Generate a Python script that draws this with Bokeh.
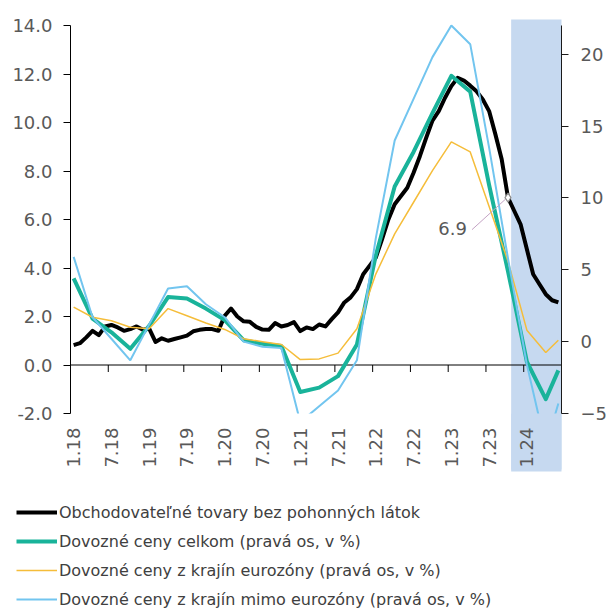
from math import pi
from bokeh.plotting import figure
from bokeh.models import (Range1d, LinearAxis, FixedTicker, PrintfTickFormatter,
                          BoxAnnotation, Legend, LegendItem, Label)
from bokeh.core.properties import value
from bokeh.embed import file_html
from bokeh.resources import INLINE

# ---------------- data ----------------
months = [f"{m}.{y}" for y in range(18, 25) for m in range(1, 13)][:78]   # 1.18 ... 6.24
tick_months = months[::6]                                                 # 1.18, 7.18, ... 1.24
left_ticks = [-2, 0, 2, 4, 6, 8, 10, 12, 14]
right_ticks = [-5, 0, 5, 10, 15, 20]

# Obchodovateľné tovary bez pohonných látok (left axis, monthly)
black = [0.82, 0.90, 1.14, 1.41, 1.23, 1.59, 1.65, 1.55, 1.41, 1.48, 1.59, 1.45,
         1.50, 0.95, 1.10, 1.00, 1.07, 1.14, 1.21, 1.39, 1.45, 1.48, 1.48, 1.41,
         2.03, 2.33, 2.00, 1.80, 1.78, 1.57, 1.46, 1.45, 1.73, 1.59, 1.65, 1.77,
         1.40, 1.55, 1.48, 1.67, 1.59, 1.89, 2.17, 2.58, 2.79, 3.13, 3.74, 4.09,
         4.43, 5.19, 6.00, 6.63, 6.97, 7.31, 7.93, 8.61, 9.37, 10.08, 10.47, 11.02,
         11.50, 11.84, 11.73, 11.52, 11.29, 10.95, 10.47, 9.51, 8.48, 6.90, 6.35, 5.80,
         4.77, 3.74, 3.33, 2.92, 2.67, 2.58]

# import-price series (right axis), observed at these months
q_months = months[::3] + [months[-1]]
teal = [4.4, 1.6, 0.65, -0.5, 1.1, 3.1, 3.0, 2.3, 1.5, 0.1, -0.15, -0.3, -3.5,
        -3.2, -2.4, -0.2, 6.0, 10.8, 13.2, 15.9, 18.5, 17.4, 10.9, 4.9, -1.4, -4.0, -2.0]
yellow = [2.4, 1.7, 1.45, 1.0, 0.9, 2.3, 1.8, 1.3, 0.85, 0.2, 0.0, -0.2, -1.25,
          -1.2, -0.8, 0.9, 4.7, 7.5, 9.7, 11.9, 13.9, 13.2, 9.4, 5.6, 0.8, -0.75, 0.1]
blue = [5.9, 1.7, 0.2, -1.3, 1.2, 3.7, 3.85, 2.6, 1.7, 0.0, -0.35, -0.45, -5.6,
        -4.5, -3.4, -1.3, 7.2, 14.0, 16.9, 19.8, 22.0, 20.7, 13.5, 5.8, -1.6, -7.3, -4.3]

names = ["Obchodovateľné tovary bez pohonných látok",
         "Dovozné ceny celkom (pravá os, v %)",
         "Dovozné ceny z krajín eurozóny (pravá os, v %)",
         "Dovozné ceny z krajín mimo eurozóny (pravá os, v %)"]
colors = ["#000000", "#19B39A", "#F5BD3A", "#72C5EF"]

forecast_from = "11.23"
label_month = "10.23"

# ---------------- geometry / styles ----------------
FONT = "DejaVu Sans"
AX_COL = "#595959"
SHADE = "#C6D9F0"
W, H = 608, 616               # whole drawing (the frame covers it all)
PLOT_L, PLOT_W = 70, 491      # plot-area left edge and width (px)
AX_TOP, AX_BOT = 25, 413      # value-axis top / bottom (px from top)
SH_TOP, SH_BOT = 19, 469      # shaded band top / bottom (px from top)
LEFT_LO, LEFT_HI = left_ticks[0], left_ticks[-1]
RIGHT_LO, RIGHT_HI = -5, 22
NX = len(months)
px_x = PLOT_W / NX
px_l = (AX_BOT - AX_TOP) / (LEFT_HI - LEFT_LO)
px_r = (AX_BOT - AX_TOP) / (RIGHT_HI - RIGHT_LO)

xm = [i + 0.5 for i in range(NX)]
xq = [months.index(m) + 0.5 for m in q_months]

p = figure(frame_width=W, frame_height=H,
           x_range=Range1d(-PLOT_L / px_x, (W - PLOT_L) / px_x),
           y_range=Range1d(LEFT_LO - (H - AX_BOT) / px_l, LEFT_HI + AX_TOP / px_l),
           output_backend="svg", toolbar_location=None, min_border=0,
           outline_line_color=None,
           background_fill_color="white", border_fill_color="white")
p.extra_y_ranges = {"right": Range1d(RIGHT_LO - (H - AX_BOT) / px_r,
                                     RIGHT_HI + AX_TOP / px_r)}
p.xgrid.visible = False
p.ygrid.visible = False
p.xaxis.visible = False

# shaded forecast area (reaches slightly above the plot area and over the labels)
fc = months.index(forecast_from)
p.add_layout(BoxAnnotation(left=fc, right=NX,
                           top=LEFT_HI + (AX_TOP - SH_TOP) / px_l,
                           bottom=LEFT_LO - (SH_BOT - AX_BOT) / px_l,
                           fill_color=SHADE, fill_alpha=1.0,
                           line_color=None, level="underlay"))

# left axis
ya = p.yaxis[0]
ya.fixed_location = 0
ya.bounds = (LEFT_LO, LEFT_HI)
ya.ticker = FixedTicker(ticks=left_ticks)
ya.formatter = PrintfTickFormatter(format="%.1f")
ya.major_tick_in = 0
ya.major_tick_out = 7
ya.minor_tick_line_color = None
ya.major_label_standoff = 11
ya.axis_line_color = "#000000"
ya.major_tick_line_color = "#000000"
ya.major_label_text_font = FONT
ya.major_label_text_font_size = "18px"
ya.major_label_text_color = AX_COL

# right axis
ra = LinearAxis(y_range_name="right", fixed_location=NX, bounds=(RIGHT_LO, RIGHT_HI),
                ticker=FixedTicker(ticks=right_ticks),
                major_tick_in=0, major_tick_out=7, minor_tick_line_color=None,
                major_label_standoff=12, axis_line_color="#1a1a1a",
                major_tick_line_color="#1a1a1a", major_label_text_font=FONT,
                major_label_text_font_size="18px", major_label_text_color=AX_COL)
p.add_layout(ra, "right")

# zero line with category tick marks
tb = [months.index(m) for m in tick_months[1:]]
p.segment(x0=[0] + tb, x1=[NX] + tb, y0=[0] * (len(tb) + 1),
          y1=[0] + [-7 / px_l] * len(tb), line_color="#000000", line_width=1)

# series
r_black = p.line(xm, black, line_color=colors[0], line_width=4, line_join="round")
r_teal = p.line(xq, teal, line_color=colors[1], line_width=4, y_range_name="right",
                line_join="round")
r_yel = p.line(xq, yellow, line_color=colors[2], line_width=1.5, y_range_name="right")
r_blue = p.line(xq, blue, line_color=colors[3], line_width=2, y_range_name="right")

# values below the axis minimum stay hidden, as in a clipped plot area
ybot = LEFT_LO - (SH_BOT - AX_BOT + 2) / px_l
p.quad(left=[-1, fc], right=[fc, NX], bottom=[ybot, ybot], top=[LEFT_LO, LEFT_LO],
       fill_color=["white", SHADE], line_color=None)

# category labels below the plot area
lab_x = [months.index(m) + 0.5 for m in tick_months]
p.text(x=lab_x, y=[LEFT_LO - 14 / px_l] * len(lab_x), text=tick_months, angle=pi / 2,
       text_align="right", text_baseline="middle", text_font=value(FONT),
       text_font_size="18px", text_color=AX_COL)

# data label 6.9
li = months.index(label_month)
lx, ly = li + 0.5, black[li]
p.segment(x0=[lx - 36 / px_x], y0=[ly - 32 / px_l], x1=[lx - 2.5 / px_x], y1=[ly - 1.5 / px_l],
          line_color="#C4A3C4", line_width=1)
p.scatter([lx], [ly], marker="diamond", size=9, fill_color="white",
          line_color="#8c8c8c", line_width=1.2)
p.add_layout(Label(x=lx, y=ly, x_offset=-41, y_offset=-31, text=f"{ly:.1f}",
                   text_align="right", text_baseline="middle", text_font=FONT,
                   text_font_size="18px", text_color=AX_COL))

# legend below the chart
legend = Legend(items=[LegendItem(label=n, renderers=[r]) for n, r in
                       zip(names, [r_black, r_teal, r_yel, r_blue])],
                location=(16, 7), orientation="vertical",
                glyph_width=41, glyph_height=20, label_height=20, spacing=9,
                label_standoff=2, padding=0, margin=0,
                border_line_color=None, background_fill_alpha=0,
                label_text_font=FONT, label_text_font_size="16px",
                label_text_color="#404040")
p.add_layout(legend, "center")

open("out.html", "w").write(file_html(p, INLINE))
